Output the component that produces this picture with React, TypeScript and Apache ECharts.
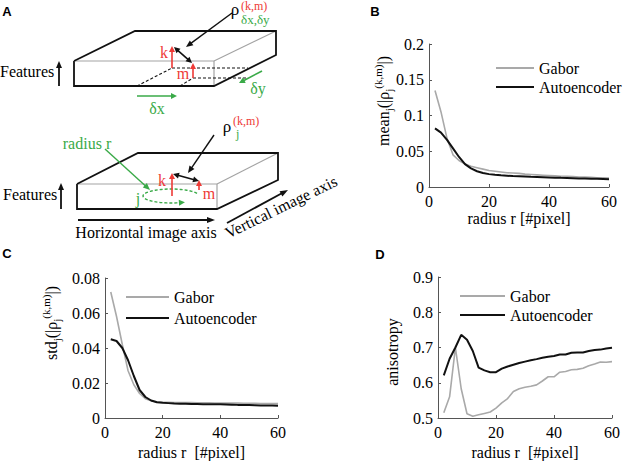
import React, { useEffect, useRef } from 'react';
import * as echarts from 'echarts';

// ---------- data ----------
const radius = [2, 4, 6, 8, 10, 12, 14, 16, 18, 20, 22, 24, 26, 28, 30, 32, 34, 36, 38, 40, 42, 44, 46, 48, 50, 52, 54, 56, 58, 60];
const meanGabor = [0.135, 0.105, 0.068, 0.045, 0.037, 0.032, 0.029, 0.027, 0.025, 0.023, 0.022, 0.021, 0.02, 0.0195, 0.019, 0.018, 0.0175, 0.017, 0.0165, 0.016, 0.0155, 0.015, 0.0148, 0.0145, 0.014, 0.0138, 0.0135, 0.013, 0.0128, 0.0125];
const meanAuto = [0.082, 0.076, 0.066, 0.054, 0.042, 0.032, 0.026, 0.022, 0.0195, 0.018, 0.017, 0.0163, 0.0158, 0.0153, 0.015, 0.0146, 0.0142, 0.014, 0.0137, 0.0134, 0.0131, 0.0128, 0.0126, 0.0123, 0.012, 0.0118, 0.0116, 0.0114, 0.0112, 0.011];
const stdGabor = [0.072, 0.058, 0.042, 0.027, 0.019, 0.014, 0.011, 0.0098, 0.0093, 0.009, 0.009, 0.0089, 0.0088, 0.0088, 0.0088, 0.0087, 0.0087, 0.0087, 0.0086, 0.0086, 0.0085, 0.0085, 0.0085, 0.0084, 0.0084, 0.0084, 0.0083, 0.0083, 0.0083, 0.0082];
const stdAuto = [0.045, 0.044, 0.04, 0.033, 0.024, 0.016, 0.012, 0.01, 0.009, 0.0087, 0.0085, 0.0083, 0.0082, 0.0081, 0.008, 0.008, 0.0079, 0.0079, 0.0078, 0.0078, 0.0077, 0.0076, 0.0075, 0.0075, 0.0074, 0.0073, 0.0072, 0.0072, 0.0071, 0.007];
const anisoGabor = [0.515, 0.56, 0.7, 0.583, 0.512, 0.505, 0.509, 0.513, 0.517, 0.528, 0.543, 0.555, 0.575, 0.583, 0.587, 0.59, 0.594, 0.605, 0.617, 0.617, 0.63, 0.632, 0.637, 0.638, 0.641, 0.648, 0.653, 0.659, 0.658, 0.66];
const anisoAuto = [0.621, 0.668, 0.7, 0.736, 0.722, 0.69, 0.643, 0.635, 0.63, 0.63, 0.64, 0.646, 0.651, 0.656, 0.66, 0.664, 0.667, 0.671, 0.674, 0.676, 0.68, 0.68, 0.685, 0.686, 0.686, 0.69, 0.693, 0.694, 0.697, 0.699];
const seriesNames = ['Gabor', 'Autoencoder'];

// ---------- styles ----------
const SERIF = 'Liberation Serif, serif';
const SANS = 'Liberation Sans, sans-serif';
const RED = '#ee3a36';
const GREEN = '#3aaa48';
const BLACK = '#111111';
const EDGE_GRAY = '#a3a3a3';
const GABOR_COLOR = '#a9a9a9';
const AUTO_COLOR = '#111111';
const AXIS_COLOR = '#555555';

// ---------- diagram helpers ----------
function seg(x1: number, y1: number, x2: number, y2: number, color: string, w = 1.5, dash?: number[]) {
  return { type: 'line', silent: true, shape: { x1, y1, x2, y2 }, style: { stroke: color, lineWidth: w, lineDash: dash } };
}
function head(x1: number, y1: number, x2: number, y2: number, color: string, len = 6, wid = 3) {
  const dx = x2 - x1, dy = y2 - y1, L = Math.hypot(dx, dy), ux = dx / L, uy = dy / L;
  const bx = x2 - ux * len, by = y2 - uy * len;
  return { type: 'polygon', silent: true, shape: { points: [[x2, y2], [bx - uy * wid, by + ux * wid], [bx + uy * wid, by - ux * wid]] }, style: { fill: color } };
}
function arrow(x1: number, y1: number, x2: number, y2: number, color: string, w = 1.5, len = 6, wid = 3) {
  const dx = x2 - x1, dy = y2 - y1, L = Math.hypot(dx, dy);
  const bx = x2 - (dx / L) * (len - 1), by = y2 - (dy / L) * (len - 1);
  return [seg(x1, y1, bx, by, color, w), head(x1, y1, x2, y2, color, len, wid)];
}
function dblArrow(x1: number, y1: number, x2: number, y2: number, color: string, w = 1.5, len = 6, wid = 3) {
  const dx = x2 - x1, dy = y2 - y1, L = Math.hypot(dx, dy), ux = dx / L, uy = dy / L;
  return [
    seg(x1 + ux * (len - 1), y1 + uy * (len - 1), x2 - ux * (len - 1), y2 - uy * (len - 1), color, w),
    head(x1, y1, x2, y2, color, len, wid),
    head(x2, y2, x1, y1, color, len, wid),
  ];
}
function txt(x: number, y: number, text: string, color: string, size: number, align = 'center', extra: any = {}) {
  const font = `${extra.bold ? 'bold ' : ''}${size}px ${extra.family || SERIF}`;
  return {
    type: 'text', silent: true, x, y, rotation: extra.rotation || 0,
    style: { text, fill: color, font, textAlign: align, textVerticalAlign: 'middle', align, verticalAlign: 'middle' },
  };
}
function richLabel(x: number, y: number, text: string) {
  return {
    type: 'text', silent: true, x, y, rotation: Math.PI / 2,
    style: {
      text, fill: '#000', font: `16px ${SERIF}`,
      textAlign: 'center', textVerticalAlign: 'middle', align: 'center', verticalAlign: 'middle',
      rich: {
        m: { font: `16px ${SERIF}`, fill: '#000', lineHeight: 22, verticalAlign: 'middle' },
        s: { font: `11px ${SERIF}`, fill: '#000', lineHeight: 11, verticalAlign: 'bottom' },
        p: { font: `11px ${SERIF}`, fill: '#000', lineHeight: 11, verticalAlign: 'top' },
      },
    },
  };
}
function ellipseArc(cx: number, cy: number, rx: number, ry: number, t0: number, t1: number, n: number) {
  const pts: number[][] = [];
  for (let i = 0; i <= n; i++) {
    const t = t0 + ((t1 - t0) * i) / n;
    pts.push([cx + rx * Math.cos(t), cy + ry * Math.sin(t)]);
  }
  return pts;
}

function buildDiagram() {
  const els: any[] = [];
  // panel letters
  els.push(txt(7, 11, 'A', '#000', 13, 'center', { bold: true, family: SANS }));
  els.push(txt(375, 11, 'B', '#000', 13, 'center', { bold: true, family: SANS }));
  els.push(txt(7, 253, 'C', '#000', 13, 'center', { bold: true, family: SANS }));
  els.push(txt(380, 254, 'D', '#000', 13, 'center', { bold: true, family: SANS }));

  // ----- top box -----
  els.push(seg(74, 61, 214, 61, EDGE_GRAY, 1.2));
  els.push(seg(214, 61, 214, 86, EDGE_GRAY, 1.2));
  els.push(seg(214, 61, 276, 31, EDGE_GRAY, 1.2));
  els.push({ type: 'polyline', silent: true, shape: { points: [[74, 61], [135, 31], [276, 31], [276, 55], [214, 86], [74, 86], [74, 61]] }, style: { stroke: BLACK, lineWidth: 1.8, fill: null } });
  const dash = [3, 2];
  els.push(seg(137, 86, 172, 68, BLACK, 1.1, dash));
  els.push(seg(172, 68, 248, 68, BLACK, 1.1, dash));
  els.push(seg(180, 86, 193, 78, BLACK, 1.1, dash));
  els.push(seg(193, 78, 248, 78, BLACK, 1.1, dash));
  els.push(...arrow(172, 68, 172, 46, RED, 1.6, 6, 3));
  els.push(...arrow(193, 78, 193, 63, RED, 1.6, 6, 3));
  els.push(txt(164, 52, 'k', RED, 16));
  els.push(txt(183, 73, 'm', RED, 16));
  els.push(...dblArrow(174, 47, 192, 63, BLACK, 1.6, 6, 3));
  els.push(...arrow(232, 13, 186, 47, BLACK, 1.4, 7, 3));
  els.push(txt(235, 9, 'ρ', '#000', 17));
  els.push(txt(241, 6, '(k,m)', RED, 12, 'left'));
  els.push(txt(241, 19, 'δx,δy', GREEN, 13, 'left'));
  els.push(...arrow(262, 71, 239, 83, GREEN, 1.6, 6, 3));
  els.push(txt(258, 88, 'δy', GREEN, 16));
  els.push(...arrow(137, 96, 177, 96, GREEN, 1.6, 6, 3));
  els.push(txt(157, 108, 'δx', GREEN, 16));
  els.push(txt(0, 71, 'Features', '#000', 16, 'left'));
  els.push(...arrow(59, 86, 59, 61, BLACK, 1.8, 7, 3));

  // ----- bottom box -----
  els.push(seg(77, 184, 217, 184, EDGE_GRAY, 1.2));
  els.push(seg(217, 184, 217, 209, EDGE_GRAY, 1.2));
  els.push(seg(217, 184, 278, 153, EDGE_GRAY, 1.2));
  els.push({ type: 'polyline', silent: true, shape: { points: [[77, 184], [138, 153], [278, 153], [278, 180], [217, 209], [77, 209], [77, 184]] }, style: { stroke: BLACK, lineWidth: 1.8, fill: null } });
  els.push(txt(3, 194, 'Features', '#000', 16, 'left'));
  els.push(...arrow(61, 209, 61, 183, BLACK, 1.8, 7, 3));
  els.push(txt(87, 143, 'radius r', GREEN, 16));
  els.push(...arrow(105, 149, 150, 190, GREEN, 1.4, 7, 3));
  const arc = ellipseArc(171, 196, 28, 7, -0.12 * Math.PI, -1.64 * Math.PI, 40);
  els.push({ type: 'polyline', silent: true, shape: { points: arc }, style: { stroke: GREEN, lineWidth: 1.4, lineDash: [3, 2], fill: null } });
  const a1 = arc[arc.length - 3], a2 = arc[arc.length - 1];
  els.push(head(a1[0], a1[1], a2[0] + 2, a2[1], GREEN, 6, 3));
  els.push(txt(138, 198, 'j', GREEN, 16));
  els.push(...arrow(172, 196, 172, 173, RED, 1.6, 6, 3));
  els.push(txt(162, 180, 'k', RED, 16));
  els.push(...arrow(199, 190, 199, 180, RED, 1.6, 6, 3));
  els.push(txt(209, 193, 'm', RED, 16));
  els.push(...dblArrow(173, 174, 199, 181, BLACK, 1.6, 6, 3));
  els.push(...arrow(214, 135, 188, 173, BLACK, 1.4, 7, 3));
  els.push(txt(227, 126, 'ρ', '#000', 17));
  els.push(txt(233, 121, '(k,m)', RED, 12, 'left'));
  els.push(txt(236, 134, 'j', GREEN, 12, 'left'));
  els.push(...arrow(78, 220, 215, 220, BLACK, 1.8, 8, 3));
  els.push(txt(146, 232, 'Horizontal image axis', '#000', 16));
  els.push(...arrow(227, 223, 288, 190, BLACK, 1.8, 8, 3));
  els.push(txt(281, 207, 'Vertical image axis', '#000', 16, 'center', { rotation: (26 * Math.PI) / 180 }));

  // ----- y axis titles -----
  els.push(richLabel(383, 101, '{m|mean}{s|j}{m|(|ρ}{s|j}{p|(k,m)}{m||)}'));
  els.push(richLabel(51, 323, '{m|std}{s|j}{m|(|ρ}{s|j}{p|(k,m)}{m||)}'));
  els.push(txt(392, 352, 'anisotropy', '#000', 16, 'center', { rotation: Math.PI / 2 }));
  return els;
}

function pairs(ys: number[]) {
  return radius.map((r, i) => [r, ys[i]]);
}

export default function App() {
  const ref = useRef<HTMLDivElement>(null);
  useEffect(() => {
    if (!ref.current) return;
    const chart = echarts.init(ref.current, null, { renderer: 'svg' });
    const labelStyle = { fontFamily: SERIF, fontSize: 16, color: '#000' };
    const mkX = (gridIndex: number, nameGap: number, name: string) => ({
      type: 'value', gridIndex, min: 0, max: 60, interval: 20,
      name, nameLocation: 'middle', nameGap, nameMoveOverlap: false,
      nameTextStyle: { fontFamily: SERIF, fontSize: 16, color: '#000' },
      axisLine: { show: true, lineStyle: { color: AXIS_COLOR, width: 1 } },
      axisTick: { show: true, inside: true, length: 3, lineStyle: { color: AXIS_COLOR } },
      axisLabel: { ...labelStyle, margin: 6, showMinLabel: true, showMaxLabel: true },
      splitLine: { show: false },
    });
    const mkY = (gridIndex: number, min: number, max: number, interval: number) => ({
      type: 'value', gridIndex, min, max, interval,
      axisLine: { show: true, lineStyle: { color: AXIS_COLOR, width: 1 } },
      axisTick: { show: true, inside: true, length: 3, lineStyle: { color: AXIS_COLOR } },
      axisLabel: { ...labelStyle, margin: 5, showMinLabel: true, showMaxLabel: true },
      splitLine: { show: false },
    });
    const mkSeries = (name: string, idx: number, ys: number[]) => ({
      name, type: 'line', xAxisIndex: idx, yAxisIndex: idx, data: pairs(ys),
      symbol: 'none', showSymbol: false, smooth: false,
      lineStyle: { color: name === 'Gabor' ? GABOR_COLOR : AUTO_COLOR, width: name === 'Gabor' ? 1.6 : 2 },
      itemStyle: { color: name === 'Gabor' ? GABOR_COLOR : AUTO_COLOR },
      z: name === 'Gabor' ? 2 : 3,
    });
    const mkLegend = (left: number, top: number, itemWidth: number, itemGap: number) => ({
      data: seriesNames, left, top, orient: 'vertical', itemWidth, itemHeight: 2, itemGap, icon: 'rect',
      padding: 0, selectedMode: false, textStyle: { fontFamily: SERIF, fontSize: 16, color: '#000' },
    });
    chart.setOption({
      animation: false,
      backgroundColor: '#ffffff',
      grid: [
        { left: 429, top: 44, width: 180, height: 143 },
        { left: 105, top: 278, width: 173, height: 142 },
        { left: 438, top: 277, width: 174, height: 141 },
      ],
      xAxis: [
        mkX(0, 23, 'radius r [#pixel]'),
        mkX(1, 26, 'radius r  [#pixel]'),
        mkX(2, 26, 'radius r  [#pixel]'),
      ],
      yAxis: [mkY(0, 0, 0.2, 0.05), mkY(1, 0, 0.08, 0.02), mkY(2, 0.5, 0.9, 0.1)],
      legend: [mkLegend(496, 60, 38, 3), mkLegend(126, 289, 43, 5), mkLegend(460, 288, 45, 3)],
      series: [
        mkSeries('Gabor', 0, meanGabor),
        mkSeries('Autoencoder', 0, meanAuto),
        mkSeries('Gabor', 1, stdGabor),
        mkSeries('Autoencoder', 1, stdAuto),
        mkSeries('Gabor', 2, anisoGabor),
        mkSeries('Autoencoder', 2, anisoAuto),
      ],
      graphic: { elements: buildDiagram() },
    });
    return () => chart.dispose();
  }, []);
  return <div ref={ref} style={{ position: 'absolute', left: 0, top: 0, width: 624, height: 461, background: '#fff' }} />;
}
